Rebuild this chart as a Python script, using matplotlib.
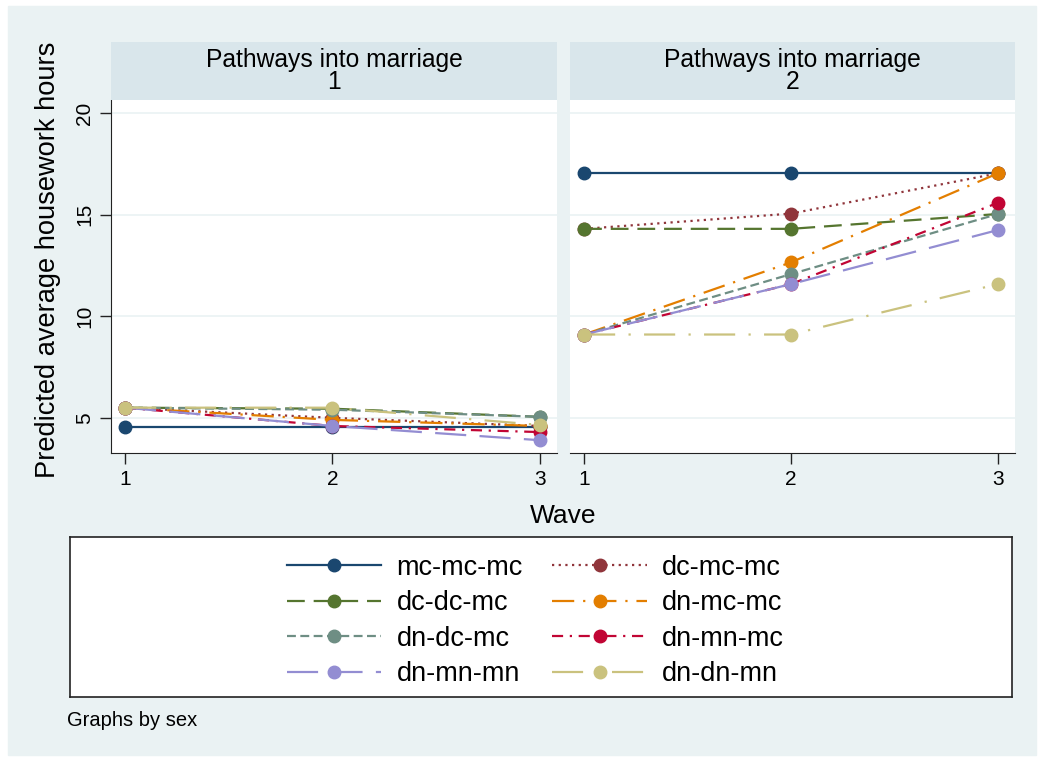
import numpy as np
import matplotlib.pyplot as plt
from matplotlib.patches import Rectangle
from matplotlib.lines import Line2D

plt.rcParams['font.family'] = ['Liberation Sans', 'DejaVu Sans']

# Data
waves = [1, 2, 3]
panels = ["1", "2"]
series = ["mc-mc-mc", "dc-mc-mc", "dc-dc-mc", "dn-mc-mc",
          "dn-dc-mc", "dn-mn-mc", "dn-mn-mn", "dn-dn-mn"]

# panel 1 (sex 1)
p1 = {
    "mc-mc-mc": [4.55, 4.55, 4.55],
    "dc-mc-mc": [5.5, 5.0, 4.6],
    "dc-dc-mc": [5.5, 5.45, 5.05],
    "dn-mc-mc": [5.5, 4.9, 4.6],
    "dn-dc-mc": [5.5, 5.4, 5.05],
    "dn-mn-mc": [5.5, 4.6, 4.3],
    "dn-mn-mn": [5.5, 4.6, 3.9],
    "dn-dn-mn": [5.5, 5.5, 4.65],
}
# panel 2 (sex 2)
p2 = {
    "mc-mc-mc": [17.03, 17.03, 17.03],
    "dc-mc-mc": [14.3, 15.05, 17.03],
    "dc-dc-mc": [14.3, 14.3, 15.03],
    "dn-mc-mc": [9.1, 12.65, 17.03],
    "dn-dc-mc": [9.1, 12.07, 15.03],
    "dn-mn-mc": [9.1, 11.58, 15.58],
    "dn-mn-mn": [9.1, 11.58, 14.24],
    "dn-dn-mn": [9.1, 9.1, 11.58],
}

colors = {
    "mc-mc-mc": "#1a476f", "dc-mc-mc": "#90353b", "dc-dc-mc": "#55752f",
    "dn-mc-mc": "#e37e00", "dn-dc-mc": "#6e8e84", "dn-mn-mc": "#c10534",
    "dn-mn-mn": "#938dd2", "dn-dn-mn": "#cac27e",
}
styles = {
    "mc-mc-mc": "-",
    "dc-mc-mc": (0, (1, 2)),
    "dc-dc-mc": (0, (8, 4)),
    "dn-mc-mc": (0, (10, 4, 1, 4)),
    "dn-dc-mc": (0, (4, 2)),
    "dn-mn-mc": (0, (5, 3, 1, 3)),
    "dn-mn-mn": (0, (14, 6)),
    "dn-dn-mn": (0, (14, 6, 1, 6)),
}

bg = "#eaf2f3"
W, H = 1038, 757
fig = plt.figure(figsize=(W / 100, H / 100), dpi=100)
fig.patch.set_facecolor("white")
fig.patches.append(Rectangle((8 / W, 1 - 755 / H), 1028 / W, 749 / H,
                             transform=fig.transFigure, color=bg, zorder=-10))


def ax_px(x0, y0, x1, y1):
    return fig.add_axes([x0 / W, 1 - y1 / H, (x1 - x0) / W, (y1 - y0) / H])


panel_x = [(111, 557), (570, 1015)]
for i, (data, lab) in enumerate(zip([p1, p2], panels)):
    x0, x1 = panel_x[i]
    ax = ax_px(x0, 100, x1, 453)
    ax.set_facecolor("white")
    ax.set_xlim(0.932, 3.083)
    ax.set_ylim(3.27, 20.64)
    for y in [5, 10, 15, 20]:
        ax.axhline(y, color=bg, lw=1.2, zorder=0)
    for s in series:
        ax.plot(waves, data[s], color=colors[s], linestyle=styles[s], lw=1.6,
                marker="o", markersize=9, zorder=3)
    for sp in ["top", "right"]:
        ax.spines[sp].set_visible(False)
    ax.spines["bottom"].set_color("#222222")
    ax.spines["left"].set_color("#222222")
    ax.set_xticks(waves)
    ax.set_yticks([5, 10, 15, 20])
    ax.tick_params(axis="both", labelsize=15, length=8, width=1, color="#222222",
                   pad=4)
    if i == 0:
        for t in ax.get_yticklabels():
            t.set_rotation(90)
            t.set_va("center")
        ax.set_ylabel("Predicted average housework hours", fontsize=19.6)
        ax.yaxis.set_label_coords(-50 / 446, 0.547)
    else:
        ax.spines["left"].set_visible(False)
        ax.tick_params(axis="y", left=False, labelleft=False)

    st = ax_px(x0, 42, x1, 100)
    st.set_facecolor("#d9e6eb")
    st.set_xticks([])
    st.set_yticks([])
    for sp in st.spines.values():
        sp.set_visible(False)
    st.text(0.5, 0.5, "Pathways into marriage\n" + lab, ha="center", va="center",
            fontsize=17.7, linespacing=0.9, transform=st.transAxes)

fig.text((111 + 1015) / 2 / W, 1 - 516 / H, "Wave", ha="center", va="center",
         fontsize=19)

# Legend
handles = [Line2D([], [], color=colors[s], linestyle=styles[s], lw=1.6,
                  marker="o", markersize=9) for s in series]
order = [0, 2, 4, 6, 1, 3, 5, 7]
leg_ax = ax_px(70, 537, 1012, 697)
leg_ax.set_facecolor("white")
leg_ax.set_xticks([])
leg_ax.set_yticks([])
for sp in leg_ax.spines.values():
    sp.set_color("#222222")
    sp.set_linewidth(1.2)
leg = leg_ax.legend([handles[k] for k in order], [series[k] for k in order],
                    ncol=2, loc="center", bbox_to_anchor=(0.494, 0.475),
                    frameon=False, fontsize=19.5,
                    handlelength=3.5, handletextpad=0.55, columnspacing=1.1,
                    labelspacing=0.35)

fig.text(67 / W, 1 - 720 / H, "Graphs by sex", ha="left", va="center", fontsize=14.5)

fig.savefig("out.png", dpi=100, facecolor=fig.get_facecolor())
